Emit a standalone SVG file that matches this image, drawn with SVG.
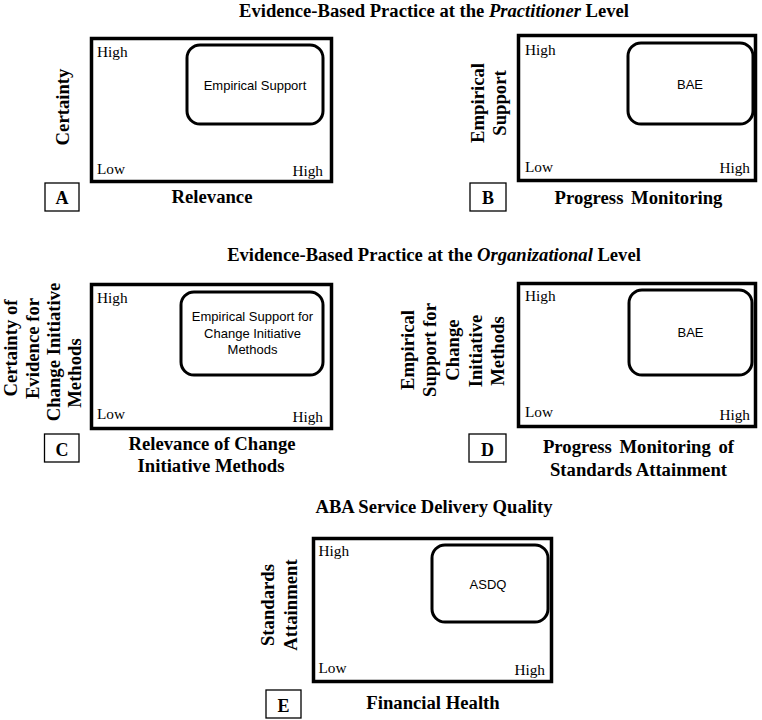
<svg xmlns="http://www.w3.org/2000/svg" width="762" height="720" viewBox="0 0 762 720">
<style>
.bg{fill:#fff}
.outer{fill:none;stroke:#000;stroke-width:3.5}
.inner{fill:none;stroke:#000;stroke-width:3}
.tag{fill:#fff;stroke:#000;stroke-width:1.3}
.title{font-family:"Liberation Serif",serif;font-weight:bold;font-size:18.6px;fill:#000;text-anchor:middle}
.axis{font-family:"Liberation Serif",serif;font-weight:bold;font-size:18.7px;fill:#000;text-anchor:middle}
.tick{font-family:"Liberation Serif",serif;font-size:15.3px;fill:#000}
.end{text-anchor:end}
.lbl{font-family:"Liberation Sans",Arial,sans-serif;font-size:13px;fill:#000;text-anchor:middle}
.letter{font-family:"Liberation Serif",serif;font-weight:bold;font-size:18px;fill:#000;text-anchor:middle}
</style>
<rect class="bg" x="0" y="0" width="762" height="720"/>
<text class="title" x="434" y="16.6">Evidence-Based Practice at the <tspan font-style="italic">Practitioner</tspan> Level</text>
<text class="title" x="434" y="260.5">Evidence-Based Practice at the <tspan font-style="italic">Organizational</tspan> Level</text>
<text class="title" x="434" y="513">ABA Service Delivery Quality</text>

<g id="panelA">
<rect class="outer" x="91.5" y="38.5" width="240" height="143"/>
<text class="tick" x="97" y="57">High</text>
<text class="tick" x="97" y="174">Low</text>
<text class="tick end" x="323" y="175.5">High</text>
<text class="axis" transform="translate(69,107) rotate(-90)">Certainty</text>
<text class="axis" x="212" y="203">Relevance</text>
<rect class="tag" x="45" y="183" width="34" height="28"/>
<text class="letter" x="62" y="204">A</text>
</g>
<g id="nodeA">
<rect class="inner" x="187" y="45" width="136" height="79" rx="13"/>
<text class="lbl" x="255" y="90">Empirical Support</text>
</g>

<g id="panelB">
<rect class="outer" x="518.5" y="35.5" width="237" height="145"/>
<text class="tick" x="525" y="55">High</text>
<text class="tick" x="525" y="171.5">Low</text>
<text class="tick end" x="750" y="173">High</text>
<text class="axis" transform="translate(484,103) rotate(-90)">Empirical</text>
<text class="axis" transform="translate(506,103) rotate(-90)">Support</text>
<text class="axis" x="638.5" y="204" word-spacing="3">Progress Monitoring</text>
<rect class="tag" x="470" y="183" width="36" height="28"/>
<text class="letter" x="488" y="204">B</text>
</g>
<g id="nodeB">
<rect class="inner" x="628" y="43" width="125" height="81" rx="13"/>
<text class="lbl" x="690" y="88.5">BAE</text>
</g>

<g id="panelC">
<rect class="outer" x="91.5" y="284.5" width="240" height="144"/>
<text class="tick" x="97" y="302.5">High</text>
<text class="tick" x="97" y="419">Low</text>
<text class="tick end" x="323" y="422">High</text>
<text class="axis" transform="translate(17,348) rotate(-90)">Certainty of</text>
<text class="axis" transform="translate(38.5,348.5) rotate(-90)">Evidence for</text>
<text class="axis" transform="translate(59.5,352) rotate(-90)">Change Initiative</text>
<text class="axis" transform="translate(81,373) rotate(-90)">Methods</text>
<text class="axis" x="212" y="450">Relevance of Change</text>
<text class="axis" x="211" y="472">Initiative Methods</text>
<rect class="tag" x="44.5" y="434" width="34.5" height="28"/>
<text class="letter" x="62" y="456">C</text>
</g>
<g id="nodeC">
<rect class="inner" x="181" y="292" width="142" height="83" rx="13"/>
<text class="lbl" x="252.5" y="320.5">Empirical Support for</text>
<text class="lbl" x="252.5" y="337.5">Change Initiative</text>
<text class="lbl" x="252.5" y="354">Methods</text>
</g>

<g id="panelD">
<rect class="outer" x="518.5" y="283.5" width="237" height="143"/>
<text class="tick" x="525" y="300.5">High</text>
<text class="tick" x="525" y="417">Low</text>
<text class="tick end" x="750" y="420">High</text>
<text class="axis" transform="translate(414,350) rotate(-90)">Empirical</text>
<text class="axis" transform="translate(436,350) rotate(-90)">Support for</text>
<text class="axis" transform="translate(459,350) rotate(-90)">Change</text>
<text class="axis" transform="translate(482,351) rotate(-90)">Initiative</text>
<text class="axis" transform="translate(504,351) rotate(-90)">Methods</text>
<text class="axis" x="638.5" y="453" word-spacing="3">Progress Monitoring of</text>
<text class="axis" x="638.5" y="476">Standards Attainment</text>
<rect class="tag" x="469" y="434" width="37" height="28"/>
<text class="letter" x="487.5" y="456">D</text>
</g>
<g id="nodeD">
<rect class="inner" x="629" y="290" width="123" height="85" rx="13"/>
<text class="lbl" x="690.5" y="336.5">BAE</text>
</g>

<g id="panelE">
<rect class="outer" x="313.5" y="538.5" width="238" height="143"/>
<text class="tick" x="318.5" y="556">High</text>
<text class="tick" x="318.5" y="673">Low</text>
<text class="tick end" x="545" y="675">High</text>
<text class="axis" transform="translate(274,605) rotate(-90)">Standards</text>
<text class="axis" transform="translate(297,605) rotate(-90)">Attainment</text>
<text class="axis" x="433" y="709">Financial Health</text>
<rect class="tag" x="266" y="690" width="35" height="28"/>
<text class="letter" x="283.5" y="711.5">E</text>
</g>
<g id="nodeE">
<rect class="inner" x="432" y="545" width="116" height="77" rx="13"/>
<text class="lbl" x="488" y="588.5">ASDQ</text>
</g>

<g id="connectors"></g>
</svg>
